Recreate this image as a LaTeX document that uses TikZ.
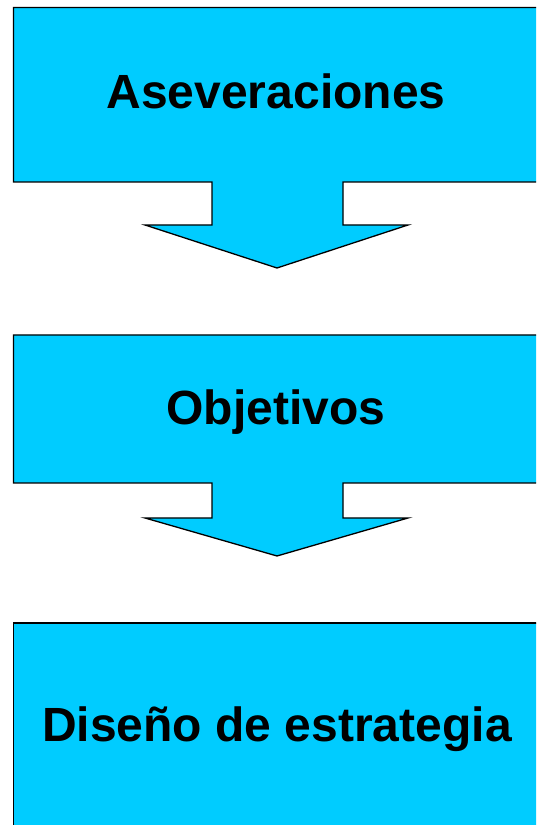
\documentclass[tikz,border=0pt]{standalone}
\usepackage{fontspec}
\setmainfont{Liberation Sans}
\definecolor{calloutblue}{RGB}{0,204,255}

\begin{document}
\begin{tikzpicture}[x=1pt, y=1pt,
    callout/.style={fill=calloutblue, draw=black, line width=1.3pt, line join=miter},
    caption/.style={font=\fontsize{48}{56}\selectfont\bfseries, anchor=base, inner sep=0pt}]
  \useasboundingbox (0,0) rectangle (536,825);
  \clip (0,0) rectangle (536,825);
  % the two boxes with a down arrow: top/bottom of the box, head line, tip
  \foreach \t/\b/\h/\p in {817.5/643/600/557, 490/342/307/269}
    \draw[callout] (13.5,\t) -- (560,\t) -- (560,\b) -- (343,\b) -- (343,\h)
      -- (408,\h) -- (277,\p) -- (145,\h) -- (212,\h) -- (212,\b)
      -- (13.5,\b) -- cycle;
  % last box, cut off at the page edge
  \draw[callout] (13.5,202) -- (560,202) -- (560,-10) -- (13.5,-10) -- cycle;
  \node[caption] (ase) at (276,716) {Aseveraciones};
  \node[caption] (obj) at (276,400) {Objetivos};
  \node[caption] (dis) at (277,83) {Diseño de estrategia};
\end{tikzpicture}
\end{document}
